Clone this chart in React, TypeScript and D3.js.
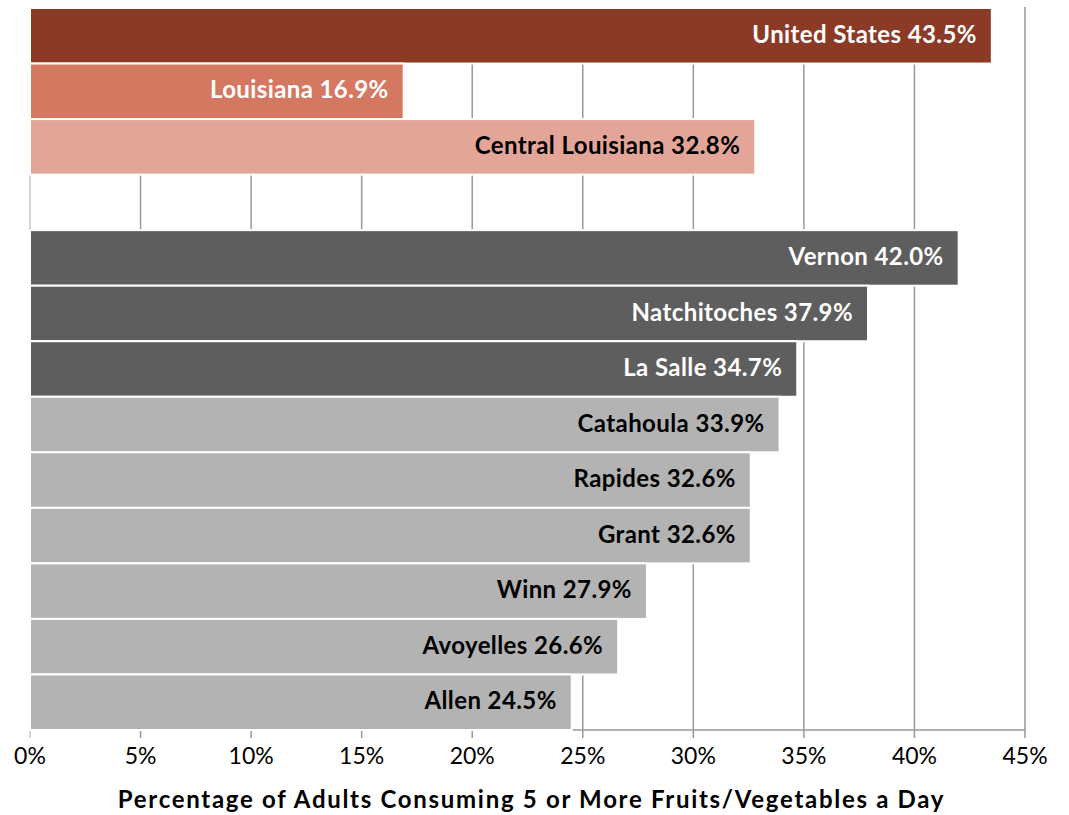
import React from "react";
import * as d3 from "d3";

const categories = [
  "United States",
  "Louisiana",
  "Central Louisiana",
  "",
  "Vernon",
  "Natchitoches",
  "La Salle",
  "Catahoula",
  "Rapides",
  "Grant",
  "Winn",
  "Avoyelles",
  "Allen",
];
const values = [43.5, 16.9, 32.8, null, 42.0, 37.9, 34.7, 33.9, 32.6, 32.6, 27.9, 26.6, 24.5];
const fills = [
  "#8B3A26",
  "#D57862",
  "#E3A597",
  "none",
  "#5E5E5E",
  "#5E5E5E",
  "#5E5E5E",
  "#B3B3B3",
  "#B3B3B3",
  "#B3B3B3",
  "#B3B3B3",
  "#B3B3B3",
  "#B3B3B3",
];
const labelColors = ["#fff", "#fff", "#000", "", "#fff", "#fff", "#fff", "#000", "#000", "#000", "#000", "#000", "#000"];
const xTicks = [0, 5, 10, 15, 20, 25, 30, 35, 40, 45];

const W = 1069;
const H = 815;
const margin = { top: 8, right: 44, bottom: 85, left: 30 };

export default function App() {
  const x = d3
    .scaleLinear()
    .domain([0, 45])
    .range([margin.left, W - margin.right]);
  const y = d3
    .scaleBand<number>()
    .domain(categories.map((_, i) => i))
    .range([margin.top, H - margin.bottom])
    .padding(0);
  const bottom = H - margin.bottom;
  const font = "Lato, 'DejaVu Sans', sans-serif";

  return (
    <svg
      width={W}
      height={H}
      style={{ position: "absolute", left: 0, top: 0, background: "#fff" }}
    >
      {xTicks.map((t) => (
        <line
          key={"g" + t}
          x1={x(t)}
          x2={x(t)}
          y1={margin.top - 1}
          y2={bottom + 8}
          stroke={t === 0 ? "#c8c8c8" : "#999"}
          strokeWidth={1.5}
        />
      ))}
      <line x1={x(0)} x2={x(45)} y1={bottom} y2={bottom} stroke="#999" strokeWidth={1.5} />
      {categories.map((c, i) => {
        const v = values[i];
        if (v === null) return null;
        const y0 = y(i)!;
        const h = y.bandwidth();
        return (
          <g key={c}>
            <rect
              x={x(0)}
              y={y0}
              width={x(v) - x(0)}
              height={h}
              fill={fills[i]}
              stroke="#fff"
              strokeWidth={2}
            />
            <text
              x={x(v) - 15}
              y={y0 + h / 2 + 1}
              textAnchor="end"
              dominantBaseline="middle"
              fill={labelColors[i]}
              fontFamily={font}
              fontWeight={700}
              fontSize={24}
              letterSpacing={0.4}
            >
              {c} {v.toFixed(1)}%
            </text>
          </g>
        );
      })}
      {xTicks.map((t) => (
        <text
          key={"t" + t}
          x={x(t)}
          y={758}
          textAnchor="middle"
          dominantBaseline="middle"
          fontFamily={font}
          fontSize={23}
          fill="#000"
        >
          {t}%
        </text>
      ))}
      <text
        x={(x(0) + x(45)) / 2 + 4}
        y={802}
        textAnchor="middle"
        dominantBaseline="middle"
        fontFamily={font}
        fontWeight={700}
        fontSize={24}
        letterSpacing={1.7}
        fill="#000"
      >
        Percentage of Adults Consuming 5 or More Fruits/Vegetables a Day
      </text>
    </svg>
  );
}
